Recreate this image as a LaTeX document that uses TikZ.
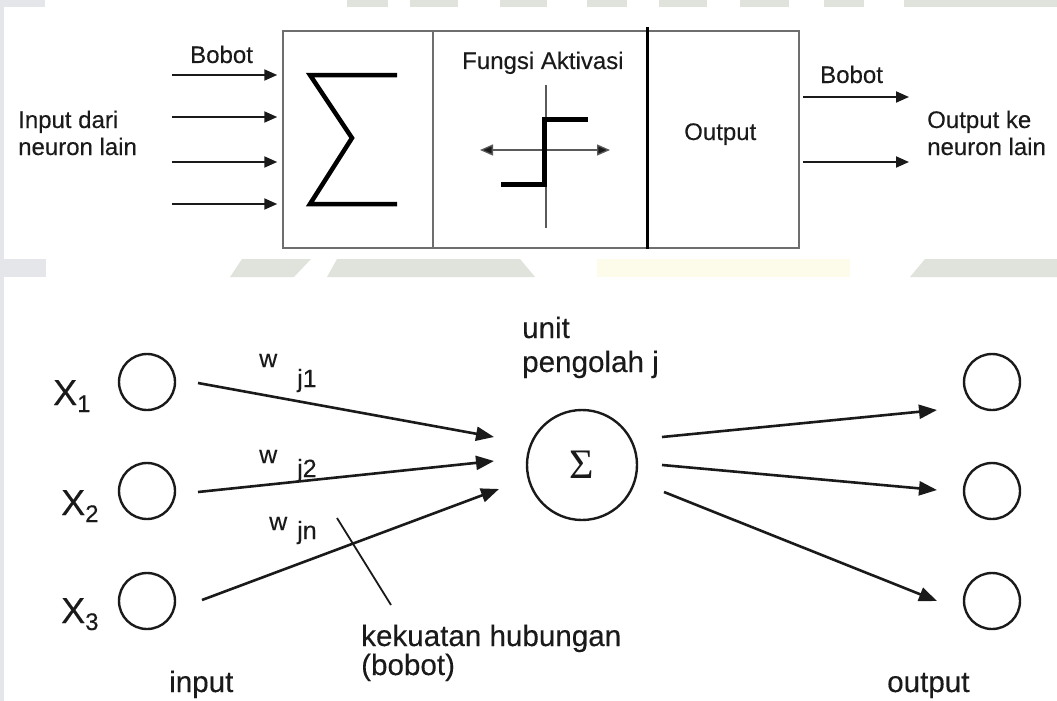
\documentclass[tikz,border=0pt]{standalone}
\usepackage{fontspec}
\setmainfont{Liberation Sans}[FakeBold=0.25]
\newfontfamily\symserif{Liberation Serif}
\usetikzlibrary{arrows.meta}

\definecolor{wmgray}{HTML}{E0E2DC}
\definecolor{wmblue}{HTML}{E4E6EA}
\definecolor{wmyellow}{HTML}{FDFCEA}
\definecolor{boxgray}{HTML}{6E6E6E}
\definecolor{axisgray}{HTML}{5A5A5A}
\definecolor{ink}{HTML}{1A1A1A}

\tikzset{
  toptext/.style={anchor=base west, inner sep=0, font=\fontsize{24}{28}\selectfont, text=ink},
  bottext/.style={anchor=base west, inner sep=0, font=\fontsize{29.6}{34}\selectfont, text=ink},
  wtext/.style={anchor=base west, inner sep=0, font=\fontsize{25}{28}\selectfont, text=ink},
  panel/.style={draw=boxgray, line width=1.5pt, minimum height=217pt, inner sep=0},
  toparrow/.style={draw=ink, line width=2pt, -{Triangle[length=13pt,width=11pt]}},
  axisarrow/.style={draw=axisgray, line width=1.3pt,
    {Triangle[length=13pt,width=11pt,fill=ink]}-{Triangle[length=13pt,width=11pt,fill=ink]}},
  botarrow/.style={draw=ink, line width=2.6pt, -{Triangle[length=18pt,width=14pt]}},
  unitcircle/.style={circle, draw=ink, line width=2.4pt, minimum size=56pt, inner sep=0},
  heavy/.style={draw=black, line width=4.5pt, line join=miter},
}

\begin{document}
\begin{tikzpicture}[x=1pt, y=-1pt]
\useasboundingbox (0,0) rectangle (1057,701);

% ---------- faint background bands ----------
\fill[wmblue] (0,0) rectangle (4,701);
\fill[wmblue] (0,0) rectangle (45,7);
\foreach \a/\b in {347/388,410/458,500/547,587/627,659/707,740/789,824/864,904/1057}
  \fill[wmgray] (\a,0) rectangle (\b,7);
\fill[wmblue] (0,259) rectangle (46,277);
\fill[wmgray] (230,277) -- (242,259) -- (311,259) -- (294,277) -- cycle;
\fill[wmgray] (327,277) -- (337,259) -- (520,259) -- (535,277) -- cycle;
\fill[wmyellow] (597,259) rectangle (850,277);
\fill[wmgray] (910,277) -- (925,259) -- (1057,259) -- (1057,277) -- cycle;

% ---------- upper model: neuron as three panels ----------
\node[panel, minimum width=150pt] (sump) at (358,139.5) {};
\node[panel, minimum width=214pt] (actp) at (540,139.5) {};
\node[panel, minimum width=152pt] (outp) at (723,139.5) {};
\draw[line width=2.6pt, black] ([yshift=3pt]actp.north east) -- (actp.south east);

% incoming weighted inputs
\foreach \yy [count=\i] in {75,117,162,204} {
  \coordinate (in\i) at (172,\yy);
  \draw[toparrow] (in\i) -- ([xshift=-5pt]sump.west |- in\i);
}
\node[toptext] (bobotin) at (190,63) {Bobot};
\node[toptext] (inpA) at (18,128) {Input dari};
\node[toptext] (inpB) at (18,155) {neuron lain};

% summation symbol
\coordinate (sgA) at (397,75);
\coordinate (sgB) at (310,75);
\coordinate (sgC) at (352,138);
\coordinate (sgD) at (310,204);
\coordinate (sgE) at (397,204);
\draw[heavy] (sgA) -- (sgB) -- (sgC) -- (sgD) -- (sgE);

% activation function (step)
\node[toptext] (fakt) at (462,69) {Fungsi Aktivasi};
\coordinate (vtop) at (546,85);
\coordinate (vbot) at (546,228);
\coordinate (hl) at (480,150);
\coordinate (hr) at (610,150);
\draw[draw=axisgray, line width=1.5pt] (vtop) -- (vbot);
\draw[axisarrow] (hl) -- (hr);
\coordinate (stA) at (501,184);
\coordinate (stB) at (544,184);
\coordinate (stC) at (544,119);
\coordinate (stD) at (588,119);
\draw[draw=black, line width=5pt, line join=miter] (stA) -- (stB) -- (stC) -- (stD);

% output panel and outgoing weights
\node[toptext] (outtxt) at (684,140) {Output};
\foreach \yy [count=\i] in {97,162} {
  \coordinate (os\i) at (803,\yy);
  \coordinate (oe\i) at (909,\yy);
  \draw[toparrow] (os\i) -- (oe\i);
}
\node[toptext] (bobotout) at (820,83) {Bobot};
\node[toptext] (outA) at (927,128) {Output ke};
\node[toptext] (outB) at (927,155) {neuron lain};

% ---------- lower model: single processing unit ----------
\node[unitcircle] (x1) at (147,382) {};
\node[unitcircle] (x2) at (147,491) {};
\node[unitcircle] (x3) at (147,601) {};
\node[unitcircle] (y1) at (992,382) {};
\node[unitcircle] (y2) at (992,491) {};
\node[unitcircle] (y3) at (992,601) {};
\node[circle, draw=ink, line width=2.4pt, minimum size=110pt, inner sep=0,
      font=\symserif\fontsize{42}{42}\selectfont, text=ink] (sum) at (582,465) {Σ};

\node[anchor=base west, inner sep=0, text=ink] (lx1) at (53,405)
  {\fontsize{36}{36}\selectfont X\raisebox{-7pt}{\fontsize{24}{24}\selectfont 1}};
\node[anchor=base west, inner sep=0, text=ink] (lx2) at (61,515)
  {\fontsize{36}{36}\selectfont X\raisebox{-7pt}{\fontsize{24}{24}\selectfont 2}};
\node[anchor=base west, inner sep=0, text=ink] (lx3) at (61,623)
  {\fontsize{36}{36}\selectfont X\raisebox{-7pt}{\fontsize{24}{24}\selectfont 3}};

% weighted connections into the unit
\coordinate (a1) at (198,383);
\coordinate (t1) at (494,437);
\coordinate (a2) at (198,492);
\coordinate (t2) at (494,461);
\coordinate (a3) at (202,600);
\coordinate (t3) at (499,489);
\draw[botarrow] (a1) -- (t1);
\draw[botarrow] (a2) -- (t2);
\draw[botarrow] (a3) -- (t3);

% connections out of the unit
\coordinate (b1) at (662,437);
\coordinate (u1) at (937,410);
\coordinate (b2) at (662,465);
\coordinate (u2) at (937,490);
\coordinate (b3) at (664,492);
\coordinate (u3) at (937,601);
\draw[botarrow] (b1) -- (u1);
\draw[botarrow] (b2) -- (u2);
\draw[botarrow] (b3) -- (u3);

% weight labels
\node[wtext] (w1) at (259,367) {w};
\node[wtext] (j1) at (297,387) {j1};
\node[wtext] (w2) at (259,463) {w};
\node[wtext] (j2) at (297,477) {j2};
\node[wtext] (wn) at (269,530) {w};
\node[wtext] (jn) at (297,539) {jn};

% annotation pointer
\coordinate (pA) at (337,518);
\coordinate (pB) at (391,605);
\draw[draw=ink, line width=1.8pt] (pA) -- (pB);

\node[bottext] (unitA) at (522,338) {unit};
\node[bottext] (unitB) at (522,372) {pengolah j};
\node[bottext] (kekA) at (361,646) {kekuatan hubungan};
\node[bottext] (kekB) at (361,675) {(bobot)};
\node[bottext] (linput) at (169,692) {input};
\node[bottext] (loutput) at (887,692) {output};
\end{tikzpicture}
\end{document}
